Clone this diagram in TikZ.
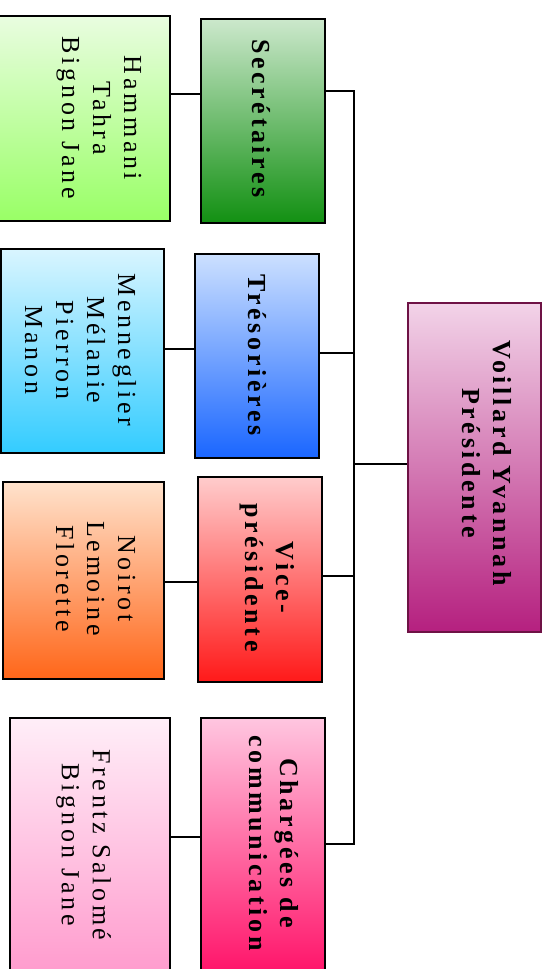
\documentclass[tikz,border=0pt]{standalone}
\usepackage{fontspec}
\setmainfont{Liberation Serif}[LetterSpace=14]
\begin{document}
\begin{tikzpicture}[x=1pt,y=-1pt,
  box/.style={draw=black, line width=1.6pt, rectangle, inner sep=0pt},
  txt/.style={rotate=-90, align=center, inner sep=0pt, font=\fontsize{26}{31}\selectfont},
  btxt/.style={rotate=-90, align=center, inner sep=0pt, font=\fontsize{26}{31}\selectfont\bfseries},
  conn/.style={draw=black, line width=1.6pt}]
\definecolor{pAt}{HTML}{E9FDE0}\definecolor{pAb}{HTML}{99FF66}
\definecolor{rAt}{HTML}{CCE8CC}\definecolor{rAb}{HTML}{129012}
\definecolor{pBt}{HTML}{D9F5FF}\definecolor{pBb}{HTML}{33CCFF}
\definecolor{rBt}{HTML}{CCE0FF}\definecolor{rBb}{HTML}{1A66FF}
\definecolor{pCt}{HTML}{FFE2CC}\definecolor{pCb}{HTML}{FF6619}
\definecolor{rCt}{HTML}{FFCCCC}\definecolor{rCb}{HTML}{FF1919}
\definecolor{pDt}{HTML}{FFEEF8}\definecolor{pDb}{HTML}{FF99CC}
\definecolor{rDt}{HTML}{FFC6E0}\definecolor{rDb}{HTML}{FF0F66}
\definecolor{prt}{HTML}{F2D3E8}\definecolor{prb}{HTML}{B5207F}
\definecolor{prd}{HTML}{6E1245}
\useasboundingbox (0,0) rectangle (547,969);
\clip (0,0) rectangle (547,969);
% boxes
\node[box, top color=pAt, bottom color=pAb, minimum width=175pt, minimum height=205pt] (p1) at (82.5,118.5) {};
\node[box, top color=rAt, bottom color=rAb, minimum width=124pt, minimum height=204pt] (r1) at (263,121) {};
\node[box, top color=pBt, bottom color=pBb, minimum width=163pt, minimum height=204pt] (p2) at (82.5,351) {};
\node[box, top color=rBt, bottom color=rBb, minimum width=124pt, minimum height=204pt] (r2) at (257,356) {};
\node[box, top color=pCt, bottom color=pCb, minimum width=161pt, minimum height=197pt] (p3) at (83.5,580.5) {};
\node[box, top color=rCt, bottom color=rCb, minimum width=124pt, minimum height=205pt] (r3) at (260,579.5) {};
\node[box, top color=pDt, bottom color=pDb, minimum width=160pt, minimum height=262pt] (p4) at (90,849) {};
\node[box, top color=rDt, bottom color=rDb, minimum width=124pt, minimum height=262pt] (r4) at (263,849) {};
\node[box, draw=prd, top color=prt, bottom color=prb, minimum width=133pt, minimum height=329pt] (pres) at (474.5,467.5) {};
% texts
\node[txt] (t1) at (99,118) {Hammani\\Tahra\\Bignon Jane};
\node[txt] (t2) at (80.5,350) {Menneglier\\Mélanie\\Pierron\\Manon};
\node[txt] (t3) at (95.5,578.5) {Noirot\\Lemoine\\Florette};
\node[txt] (t4) at (83.5,845) {Frentz Salomé\\Bignon Jane};
\node[btxt] (u1) at (261.5,118.5) {Secrétaires};
\node[btxt] (u2) at (257,355) {Trésorières};
\node[btxt] (u3) at (267,577.5) {Vice-\\présidente};
\node[btxt] (u4) at (273.5,843) {Chargées de\\communication};
\node[btxt] (u5) at (487,463) {Voillard Yvannah\\Présidente};
% connector coordinates
\coordinate (s0) at (354,464);
\coordinate (s1) at (354,91);
\coordinate (s2) at (354,353);
\coordinate (s3) at (354,576);
\coordinate (s4) at (354,844);
\coordinate (k1) at (0,94);
\coordinate (k2) at (0,349);
\coordinate (k3) at (0,582);
\coordinate (k4) at (0,837);
% connectors
\draw[conn] (r1.east |- s1) -- (s1) -- (s4) -- (r4.east |- s4);
\draw[conn] (r2.east |- s2) -- (s2);
\draw[conn] (r3.east |- s3) -- (s3);
\draw[conn] (s0) -- (pres.west |- s0);
\draw[conn] (p1.east |- k1) -- (r1.west |- k1);
\draw[conn] (p2.east |- k2) -- (r2.west |- k2);
\draw[conn] (p3.east |- k3) -- (r3.west |- k3);
\draw[conn] (p4.east |- k4) -- (r4.west |- k4);
\end{tikzpicture}
\end{document}
